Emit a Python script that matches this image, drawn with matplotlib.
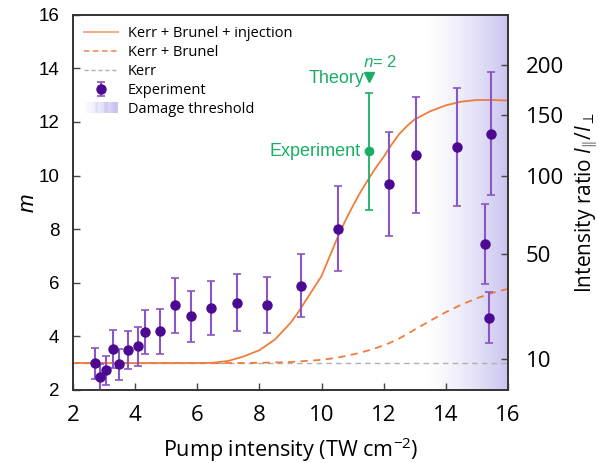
import numpy as np
import matplotlib
matplotlib.use("Agg")
import matplotlib.pyplot as plt
from matplotlib.lines import Line2D
from matplotlib.patches import Rectangle
from matplotlib.legend_handler import HandlerBase

# ---------------- data ----------------
exp_x = [2.71, 2.88, 3.05, 3.27, 3.49, 3.76, 4.08, 4.32, 4.80, 5.27, 5.80, 6.43,
         7.27, 8.23, 9.35, 10.53, 12.17, 13.04, 14.36, 15.45, 15.26, 15.38]
exp_m = [3.00, 2.47, 2.73, 3.52, 2.96, 3.49, 3.62, 4.15, 4.18, 5.15, 4.75, 5.06,
         5.26, 5.17, 5.89, 8.02, 9.70, 10.78, 11.08, 11.56, 7.44, 4.70]
exp_err = [0.58, 0.50, 0.55, 0.70, 0.58, 0.70, 0.72, 0.83, 0.83, 1.02, 0.95, 1.02,
           1.05, 1.03, 1.17, 1.60, 1.94, 2.17, 2.20, 2.30, 1.48, 0.94]

green_x = 11.52
green_m = 10.90
green_err = 2.17
theory_m = 13.67

curve_x = [2.0, 3.0, 4.0, 5.0, 6.0, 6.5, 7.0, 7.5, 8.0, 8.5, 9.0, 9.25, 9.5, 9.75,
           10.0, 10.25, 10.5, 10.75, 11.0, 11.25, 11.5, 11.75, 12.0, 12.25, 12.5,
           12.75, 13.0, 13.5, 14.0, 14.5, 15.0, 15.5, 16.0]
full_m = [3.0, 3.0, 3.0, 3.0, 3.0, 3.01, 3.08, 3.25, 3.48, 3.88, 4.50, 4.90, 5.35, 5.80,
          6.25, 6.95, 7.65, 8.28, 8.85, 9.38, 9.85, 10.30, 10.70, 11.15, 11.55,
          11.85, 12.10, 12.40, 12.62, 12.76, 12.82, 12.82, 12.80]
brunel_m = [3.0, 3.0, 3.0, 3.0, 3.0, 3.0, 3.0, 3.0, 3.01, 3.02, 3.04, 3.06, 3.08, 3.10,
            3.12, 3.16, 3.20, 3.26, 3.32, 3.39, 3.47, 3.56, 3.66, 3.78, 3.92,
            4.08, 4.25, 4.58, 4.90, 5.18, 5.42, 5.62, 5.77]
kerr_m = 3.0

x_ticks = [2, 4, 6, 8, 10, 12, 14, 16]
y_ticks = [2, 4, 6, 8, 10, 12, 14, 16]
ratio_ticks = [10, 50, 100, 150, 200]
damage_start = 13.3

# ---------------- style ----------------
ORANGE = "#ee7d3b"
GREY = "#b0b0b0"
PURPLE = "#4b0a91"
PURPLE_ERR = "#8a55c4"
GREEN = "#1aae64"
SHADE = (0.79, 0.77, 0.94)
OPEN = "Open Sans"
ARIAL = "Liberation Sans"

plt.rcParams["mathtext.fontset"] = "custom"
plt.rcParams["mathtext.rm"] = OPEN
plt.rcParams["mathtext.it"] = OPEN + ":italic"

fig = plt.figure(figsize=(5.99, 4.63), dpi=100)
ax = fig.add_axes([0.122, 0.158, 0.726, 0.810])

ax.set_xlim(2, 16)
ax.set_ylim(2, 16)

# damage threshold gradient
nx = 256
grad = np.linspace(0, 1, nx) ** 1.4
img = np.zeros((1, nx, 4))
img[..., 0] = SHADE[0]
img[..., 1] = SHADE[1]
img[..., 2] = SHADE[2]
img[..., 3] = grad
ax.imshow(img, extent=[damage_start, 16, 2, 16], aspect="auto", zorder=0,
          interpolation="bilinear")

l_full, = ax.plot(curve_x, full_m, color=ORANGE, lw=1.3, zorder=2)
l_brunel, = ax.plot(curve_x, brunel_m, color=ORANGE, lw=1.3, ls=(0, (4, 3)), zorder=2)
l_kerr = ax.axhline(kerr_m, color=GREY, lw=1.0, ls=(0, (4, 3)), zorder=1)

eb = ax.errorbar(exp_x, exp_m, yerr=exp_err, fmt="o", color=PURPLE, ms=6.5,
                 ecolor=PURPLE_ERR, elinewidth=1.5, capsize=3, capthick=1.2, zorder=4,
                 clip_on=True)

ax.errorbar([green_x], [green_m], yerr=[green_err], fmt="o", color=GREEN, ms=6,
            ecolor=GREEN, elinewidth=1.3, capsize=3, capthick=1.2, zorder=4)
ax.plot([green_x], [theory_m], marker="v", color=GREEN, ms=7, ls="none", zorder=4)
ax.text(green_x - 0.25, green_m, "Experiment", color=GREEN, ha="right", va="center",
        fontsize=13, family=ARIAL)
ax.text(green_x - 0.13, theory_m - 0.05, "Theory", color=GREEN, ha="right", va="center",
        fontsize=13, family=ARIAL)
ax.text(green_x - 0.18, theory_m + 0.55, r"$\it{n}$= 2", color=GREEN, ha="left",
        va="center", fontsize=12, family=ARIAL)

ax.set_xticks(x_ticks)
ax.set_yticks(y_ticks)
ax.tick_params(direction="in", length=5, width=1.0, color="#444444")
ax.tick_params(axis="x", pad=11, labelsize=16)
ax.tick_params(axis="y", pad=10, labelsize=13.5)
for lab in ax.get_xticklabels():
    lab.set_family(OPEN)
for lab in ax.get_yticklabels():
    lab.set_family(ARIAL)
ax.set_xlabel(r"Pump intensity (TW cm$^{-2}$)", fontsize=15.5, family=OPEN, labelpad=7)
ax.set_ylabel("m", fontsize=16, family=ARIAL, style="italic", labelpad=0)

for sp in ax.spines.values():
    sp.set_linewidth(1.2)
    sp.set_color("#333333")

ax2 = ax.twinx()
ax2.set_ylim(ax.get_ylim())
ax2.set_yticks(np.sqrt(ratio_ticks))
ax2.set_yticklabels([str(v) for v in ratio_ticks], family=OPEN)
ax2.tick_params(direction="in", length=5, width=1.0, color="#444444", labelsize=16, pad=13)
ax2.set_ylabel(r"Intensity ratio $I_{\Vert}/I_{\perp}$", fontsize=15, family=OPEN,
               labelpad=7)
for sp in ax2.spines.values():
    sp.set_linewidth(1.2)
    sp.set_color("#333333")


# legend with gradient patch
class GradientHandler(HandlerBase):
    def create_artists(self, legend, orig_handle, xdescent, ydescent, width, height,
                       fontsize, trans):
        arts = []
        n = 30
        for i in range(n):
            r = Rectangle((-xdescent + width * i / n, -ydescent), width / n + 0.3,
                          height * 1.1, facecolor=SHADE, alpha=((i + 1) / n) ** 1.2,
                          edgecolor="none", transform=trans)
            arts.append(r)
        return arts


grad_proxy = Rectangle((0, 0), 1, 1)
h_full = Line2D([], [], color=ORANGE, lw=1.3, alpha=0.7)
h_brunel = Line2D([], [], color=ORANGE, lw=1.3, ls=(0, (3, 2)), alpha=0.8)
h_kerr = Line2D([], [], color=GREY, lw=1.0, ls=(0, (3, 2)))
leg = ax.legend([h_full, h_brunel, h_kerr, eb, grad_proxy],
                ["Kerr + Brunel + injection", "Kerr + Brunel", "Kerr", "Experiment",
                 "Damage threshold"],
                handler_map={Rectangle: GradientHandler()},
                loc="upper left", bbox_to_anchor=(0.0, 1.0), frameon=False,
                prop={"family": OPEN, "size": 10.5}, handlelength=2.3,
                labelspacing=0.28, handletextpad=0.7, borderaxespad=0.35,
                borderpad=0.4)
leg.set_bbox_to_anchor((0.0, 1.0), transform=ax.transAxes)

fig.savefig("out.png", dpi=100)
